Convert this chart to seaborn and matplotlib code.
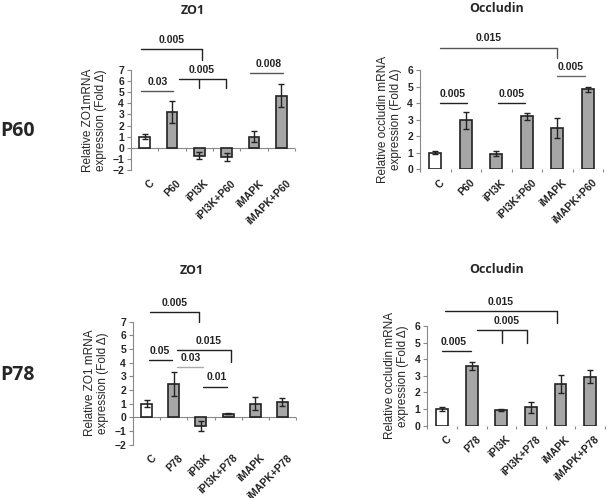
import matplotlib
matplotlib.use("Agg")
import matplotlib.pyplot as plt
import numpy as np
import seaborn as sns

groups_p60 = ["C", "P60", "iPI3K", "iPI3K+P60", "iMAPK", "iMAPK+P60"]
groups_p78 = ["C", "P78", "iPI3K", "iPI3K+P78", "iMAPK", "iMAPK+P78"]

zo1_p60 = [1.0, 3.2, -0.7, -0.8, 1.0, 4.7]
zo1_p60_err = [0.2, 1.0, 0.35, 0.35, 0.5, 1.05]
occ_p60 = [1.0, 2.95, 0.95, 3.2, 2.5, 4.85]
occ_p60_err = [0.1, 0.5, 0.15, 0.22, 0.58, 0.15]
zo1_p78 = [1.0, 2.45, -0.65, 0.25, 1.0, 1.1]
zo1_p78_err = [0.25, 0.9, 0.35, 0.05, 0.45, 0.3]
occ_p78 = [1.0, 3.6, 0.95, 1.1, 2.5, 2.95]
occ_p78_err = [0.1, 0.25, 0.05, 0.35, 0.55, 0.38]

# significance brackets: (x from, x to, y, drops at, drop to, p label, label x, colour)
sig_zo1_p60 = [
    (-0.15, 2.1, 8.9, [2.1], 7.9, "0.005", 1.0, "#222222"),
    (-0.15, 1.05, 5.1, [], None, "0.03", 0.48, "#555555"),
    (1.25, 2.97, 6.2, [1.99, 2.97], 5.35, "0.005", 2.08, "#222222"),
    (3.85, 5.05, 6.7, [], None, "0.008", 4.55, "#555555"),
]
sig_occ_p60 = [
    (0.16, 3.99, 7.35, [3.99], 6.7, "0.015", 1.75, "#555555"),
    (0.16, 1.04, 4.0, [], None, "0.005", 0.58, "#222222"),
    (2.06, 2.94, 4.0, [], None, "0.005", 2.5, "#222222"),
    (3.99, 4.9, 5.65, [], None, "0.005", 4.44, "#666666"),
]
sig_zo1_p78 = [
    (0.12, 1.94, 7.7, [1.94], 6.97, "0.005", 1.05, "#222222"),
    (0.09, 0.92, 4.17, [], None, "0.05", 0.49, "#222222"),
    (1.11, 3.1, 4.9, [3.1], 4.05, "0.015", 2.3, "#222222"),
    (1.11, 2.07, 3.67, [], None, "0.03", 1.62, "#aaaaaa"),
    (2.08, 2.96, 2.25, [], None, "0.01", 2.58, "#222222"),
]
sig_occ_p78 = [
    (0.1, 3.88, 6.9, [3.88], 6.2, "0.015", 1.96, "#222222"),
    (1.18, 2.87, 5.77, [2.01, 2.87], 5.0, "0.005", 2.18, "#222222"),
    (-0.01, 0.97, 4.5, [], None, "0.005", 0.38, "#222222"),
]

bar_colors = ["white"] + ["#a6a6a6"] * 5
axis_grey = "#888888"

sns.set_theme(style="white")
plt.rcParams["font.family"] = ["Liberation Sans", "DejaVu Sans"]

fig = plt.figure(figsize=(6.08, 4.98), dpi=100)


def panel(rect, groups, vals, errs, ylim, yticks, ylabel, sigs):
    ax = fig.add_axes(rect)
    n = len(groups)
    sns.barplot(x=groups, y=vals, hue=groups, palette=bar_colors, legend=False,
                edgecolor="#222222", linewidth=1.2, width=0.4, ax=ax, zorder=3)
    ax.errorbar(np.arange(n), vals, yerr=errs, fmt="none", ecolor="#222222",
                elinewidth=1.0, capsize=2.5, capthick=1.0, zorder=4)
    ax.set_xlim(-0.5, n - 0.5)
    ax.set_ylim(*ylim)
    ax.set_yticks(yticks)
    ax.tick_params(axis="y", direction="out", length=3, width=0.8, color=axis_grey,
                   labelsize=7.5, pad=2, left=True)
    plt.setp(ax.get_yticklabels(), fontweight="bold")
    ax.set_xticks([])
    ax.set_xlabel("")
    for s in ["top", "right", "bottom"]:
        ax.spines[s].set_visible(False)
    ax.spines["left"].set_color(axis_grey)
    ax.spines["left"].set_linewidth(0.8)

    # Excel style category axis through zero, ticks between categories
    ax.axhline(0, color=axis_grey, lw=0.8, zorder=2)
    tick = 3.0 / (rect[3] * 498 / (ylim[1] - ylim[0]))
    ax.vlines(np.arange(-0.5, n), 0, -tick, color=axis_grey, lw=0.8,
              clip_on=False)
    for i, g in enumerate(groups):
        ax.annotate(g, (i, ylim[0]), xytext=(3, -6), textcoords="offset points",
                    rotation=45, ha="right", va="top", rotation_mode="anchor",
                    fontsize=7.5, fontweight="bold", color="#222222",
                    annotation_clip=False)

    ax.set_ylabel(ylabel, fontsize=8.5, labelpad=4, linespacing=1.1)
    for x1, x2, y, drops, drop_to, label, lx, col in sigs:
        ax.plot([x1, x2], [y, y], color=col, lw=1.0, clip_on=False)
        for d in drops:
            ax.plot([d, d], [y, drop_to], color=col, lw=1.0, clip_on=False)
        ax.annotate(label, (lx, y), xytext=(0, 3), textcoords="offset points",
                    ha="center", va="bottom", fontsize=7.5, fontweight="bold",
                    color="#222222", annotation_clip=False)
    return ax


panel([131 / 608, 1 - 170 / 498, 164 / 608, 100 / 498], groups_p60, zo1_p60,
      zo1_p60_err, (-2, 7), range(-2, 8),
      "Relative ZO1mRNA\nexpression (Fold \u0394)", sig_zo1_p60)
panel([420 / 608, 1 - 169.3 / 498, 183 / 608, 99.3 / 498], groups_p60, occ_p60,
      occ_p60_err, (0, 6), range(0, 7),
      "Relative occludin mRNA\nexpression (Fold \u0394)", sig_occ_p60)
panel([133 / 608, 1 - 444.5 / 498, 163 / 608, 122.8 / 498], groups_p78, zo1_p78,
      zo1_p78_err, (-2, 7), range(-2, 8),
      "Relative ZO1 mRNA\nexpression (Fold \u0394)", sig_zo1_p78)
panel([427.3 / 608, 1 - 425.7 / 498, 177.7 / 608, 99.7 / 498], groups_p78, occ_p78,
      occ_p78_err, (0, 6), range(0, 7),
      "Relative occludin mRNA\nexpression (Fold \u0394)", sig_occ_p78)

for x, y, title in [(193, 10, "ZO1"), (497, 8, "Occludin"),
                    (192, 270, "ZO1"), (497, 269, "Occludin")]:
    fig.text(x / 608, 1 - y / 498, title, ha="center", va="center",
             fontsize=9, fontweight="bold", family=["Open Sans", "DejaVu Sans"])

for y, row in [(131, "P60"), (375, "P78")]:
    fig.text(0.0, 1 - y / 498, row, ha="left", va="center", fontsize=14,
             fontweight="bold", family=["Open Sans", "DejaVu Sans"])

fig.savefig("out.png", dpi=100, facecolor="white")
